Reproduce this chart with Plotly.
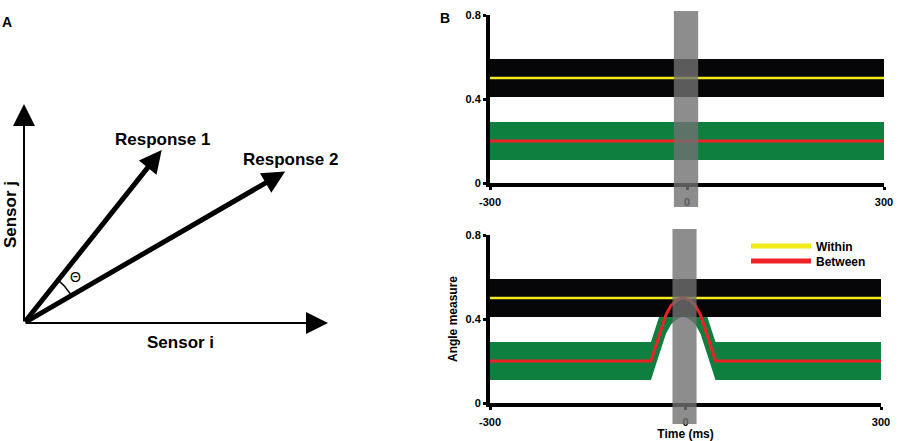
import numpy as np
import plotly.graph_objects as go

W, H = 901, 441

# === Panel A: vectors in sensor space ===
sensor_i_axis = [10.0, 0.0]
sensor_j_axis = [0.0, 7.2]
response_1 = [4.53, 5.69]
response_2 = [8.59, 4.98]

# === Panel B: angle measures over time ===
time_flat = [-300, 300]
within_top = [0.5, 0.5]
between_top = [0.2, 0.2]
spread_top = [0.09, 0.09]

time_bottom = [-300, -53, -40, -30, -22, -14, -8, -3.5, 1, 7, 15, 23, 33, 46, 300]
within_bottom = [0.5] * len(time_bottom)
between_bottom = [0.2, 0.2, 0.325, 0.42, 0.465, 0.487, 0.497, 0.5, 0.497, 0.487,
                  0.465, 0.42, 0.325, 0.2, 0.2]
spread_bottom = [0.09] * len(time_bottom)

stim_window = [-20, 17]
y_ticks = [0, 0.4, 0.8]
x_ticks = [-300, 0, 300]

BLACK_BAND = "#060608"
GREEN_BAND = "#0f7f40"
YELLOW = "#f2ea1a"
RED = "#ec2227"
FONT = "Liberation Sans"

fig = go.Figure()

# --- panel A arc for the angle ---
a1 = np.arctan2(response_1[1], response_1[0])
a2 = np.arctan2(response_2[1], response_2[0])
ang = np.linspace(a2 + 0.04, a1 - 0.04, 30)
r = 1.8
fig.add_trace(go.Scatter(x=r * np.cos(ang), y=r * np.sin(ang), mode="lines",
                         line=dict(color="black", width=1.5), showlegend=False,
                         hoverinfo="skip", xaxis="x", yaxis="y"))


def add_panel(t, within, between, spread, xa, ya):
    t = np.array(t, dtype=float)
    within = np.array(within)
    between = np.array(between)
    spread = np.array(spread)
    # between band (green)
    fig.add_trace(go.Scatter(x=t, y=between - spread, mode="lines", line=dict(width=0),
                             showlegend=False, hoverinfo="skip", xaxis=xa, yaxis=ya))
    fig.add_trace(go.Scatter(x=t, y=between + spread, mode="lines", line=dict(width=0),
                             fill="tonexty", fillcolor=GREEN_BAND, showlegend=False,
                             hoverinfo="skip", xaxis=xa, yaxis=ya))
    # within band (black)
    fig.add_trace(go.Scatter(x=t, y=within - spread, mode="lines", line=dict(width=0),
                             showlegend=False, hoverinfo="skip", xaxis=xa, yaxis=ya))
    fig.add_trace(go.Scatter(x=t, y=within + spread, mode="lines", line=dict(width=0),
                             fill="tonexty", fillcolor=BLACK_BAND, showlegend=False,
                             hoverinfo="skip", xaxis=xa, yaxis=ya))
    fig.add_trace(go.Scatter(x=t, y=within, mode="lines", line=dict(color=YELLOW, width=2.5),
                             showlegend=False, xaxis=xa, yaxis=ya))
    fig.add_trace(go.Scatter(x=t, y=between, mode="lines", line=dict(color=RED, width=3),
                             showlegend=False, xaxis=xa, yaxis=ya))


add_panel(time_flat, within_top, between_top, spread_top, "x2", "y2")
add_panel(time_bottom, within_bottom, between_bottom, spread_bottom, "x3", "y3")

# legend entries (one legend each, to keep the tight row spacing)
fig.add_trace(go.Scatter(x=[None], y=[None], mode="lines", name="Within", legend="legend",
                         line=dict(color=YELLOW, width=5), xaxis="x3", yaxis="y3"))
fig.add_trace(go.Scatter(x=[None], y=[None], mode="lines", name="Between", legend="legend2",
                         line=dict(color=RED, width=5), xaxis="x3", yaxis="y3"))

# === Panel A arrows and labels ===
annotations = []
for tip, w, size in [(sensor_i_axis, 2, 2.2), (sensor_j_axis, 2, 2.2),
                     (response_1, 5, 0.9), (response_2, 5, 0.9)]:
    annotations.append(dict(x=tip[0], y=tip[1], ax=0, ay=0, xref="x", yref="y",
                            axref="x", ayref="y", text="", showarrow=True,
                            arrowhead=2, arrowwidth=w, arrowsize=size,
                            arrowcolor="black", standoff=0))

bold17 = dict(family=FONT, size=17, color="black", weight="bold")
annotations += [
    dict(x=4.54, y=6.02, xref="x", yref="y", text="Response 1", showarrow=False, font=bold17),
    dict(x=8.78, y=5.39, xref="x", yref="y", text="Response 2", showarrow=False, font=bold17),
    dict(x=5.16, y=-0.625, xref="x", yref="y", text="Sensor i", showarrow=False, font=bold17),
    dict(x=-0.46, y=3.55, xref="x", yref="y", text="Sensor j", showarrow=False,
         textangle=-90, font=bold17),
    dict(x=1.68, y=1.51, xref="x", yref="y", text="Θ", showarrow=False,
         font=dict(family=FONT, size=14, color="black")),
    dict(x=7 / W, y=1 - 22 / H, xref="paper", yref="paper", text="A", showarrow=False,
         xanchor="center", yanchor="middle",
         font=dict(family=FONT, size=14, color="black", weight="bold")),
    dict(x=445 / W, y=1 - 18 / H, xref="paper", yref="paper", text="B", showarrow=False,
         xanchor="center", yanchor="middle",
         font=dict(family=FONT, size=14, color="black", weight="bold")),
]

# stimulus window (grey, semi-transparent)
shapes = [
    dict(type="rect", xref="x2", yref="paper", x0=stim_window[0], x1=stim_window[1],
         y0=1 - 207 / H, y1=1 - 11 / H, fillcolor="rgba(112,112,112,0.8)",
         line=dict(width=0), layer="above"),
    dict(type="rect", xref="x3", yref="paper", x0=stim_window[0], x1=stim_window[1],
         y0=1 - 424 / H, y1=1 - 229 / H, fillcolor="rgba(112,112,112,0.8)",
         line=dict(width=0), layer="above"),
]

tickfont = dict(family=FONT, size=11, color="black", weight="bold")
b_x = dict(range=[-300, 300], showline=True, linewidth=4, linecolor="black",
           ticks="outside", ticklen=3, tickwidth=3, tickcolor="black",
           tickvals=x_ticks, ticktext=[str(v) for v in x_ticks], showgrid=False,
           zeroline=False, tickfont=tickfont, ticklabelstandoff=3, automargin=False)
b_y = dict(range=[0, 0.8], showline=True, linewidth=4, linecolor="black",
           ticks="outside", ticklen=3, tickwidth=3, tickcolor="black",
           tickvals=y_ticks, ticktext=["0", "0.4", "0.8"], showgrid=False,
           zeroline=False, tickfont=tickfont, automargin=False)

legend_font = dict(family=FONT, size=12, color="black", weight="bold")
s = 30.4
fig.update_layout(
    width=W, height=H,
    margin=dict(l=0, r=0, t=0, b=0, autoexpand=False),
    paper_bgcolor="white", plot_bgcolor="white",
    xaxis=dict(domain=[0, 440 / W], range=[-24 / s, (440 - 24) / s], visible=False),
    yaxis=dict(domain=[0, 1], range=[-(H - 323) / s, 323 / s], visible=False),
    xaxis2=dict(domain=[490 / W, 884 / W], anchor="y2", **b_x),
    yaxis2=dict(domain=[1 - 183 / H, 1 - 15 / H], anchor="x2", **b_y),
    xaxis3=dict(domain=[490 / W, 881 / W], anchor="y3",
                title=dict(text="Time (ms)", standoff=2,
                           font=dict(family=FONT, size=12, color="black", weight="bold")),
                **b_x),
    yaxis3=dict(domain=[1 - 403 / H, 1 - 235 / H], anchor="x3",
                title=dict(text="Angle measure", standoff=6,
                           font=dict(family=FONT, size=12, color="black", weight="bold")),
                **b_y),
    legend=dict(x=746 / W, y=1 - 246 / H, xanchor="left", yanchor="middle",
                bgcolor="rgba(0,0,0,0)", itemwidth=60, font=legend_font),
    legend2=dict(x=746 / W, y=1 - 261 / H, xanchor="left", yanchor="middle",
                 bgcolor="rgba(0,0,0,0)", itemwidth=60, font=legend_font),
    annotations=annotations,
    shapes=shapes,
)

fig.write_html("out.html", config={"displayModeBar": False},
               post_script="document.body.style.margin = '0px';")
